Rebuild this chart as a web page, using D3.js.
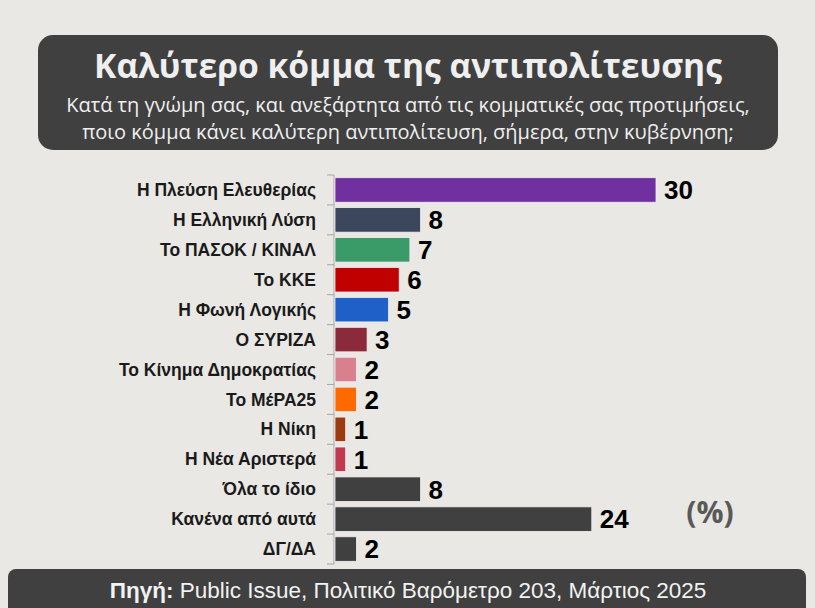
<!DOCTYPE html>
<html>
<head>
<meta charset="utf-8">
<script src="https://cdn.jsdelivr.net/npm/d3@7"></script>
<style>
  body { margin: 0; background: #e9e8e4; }
  svg { display: block; }
</style>
</head>
<body>
<svg id="chart" width="815" height="608"></svg>
<script>
// data
var parties = ["Η Πλεύση Ελευθερίας", "Η Ελληνική Λύση", "Το ΠΑΣΟΚ / ΚΙΝΑΛ", "Το ΚΚΕ", "Η Φωνή Λογικής",
    "Ο ΣΥΡΙΖΑ", "Το Κίνημα Δημοκρατίας", "Το ΜέΡΑ25", "Η Νίκη", "Η Νέα Αριστερά",
    "Όλα το ίδιο", "Κανένα από αυτά", "ΔΓ/ΔΑ"];
var values = [30, 8, 7, 6, 5, 3, 2, 2, 1, 1, 8, 24, 2];
var colors = ["#7030a0", "#3c465c", "#3a9a68", "#c00000", "#1f5fc8", "#8b2a3a", "#d9808f",
    "#ff6a00", "#9c3a10", "#c0394f", "#404040", "#404040", "#404040"];

var title = "Καλύτερο κόμμα της αντιπολίτευσης";
var subtitle = ["Κατά τη γνώμη σας, και ανεξάρτητα από τις κομματικές σας προτιμήσεις,",
    "ποιο κόμμα κάνει καλύτερη αντιπολίτευση, σήμερα, στην κυβέρνηση;"];

var width = 815, height = 608;
var svg = d3.select("#chart");

svg.append("rect").attr("width", width).attr("height", height).attr("fill", "#e9e8e4");

// title box
svg.append("rect")
    .attr("x", 38).attr("y", 35).attr("width", 740).attr("height", 115)
    .attr("rx", 15)
    .attr("fill", "#404040");

svg.append("text")
    .attr("x", 408).attr("y", 78)
    .attr("text-anchor", "middle")
    .style("font-family", "Open Sans")
    .style("font-weight", "bold")
    .style("font-size", "33.6px")
    .style("fill", "#efefef")
    .text(title);

svg.selectAll(".sub")
    .data(subtitle)
    .enter().append("text")
    .attr("class", "sub")
    .attr("x", 408)
    .attr("y", (d, i) => 112 + i * 27)
    .attr("text-anchor", "middle")
    .style("font-family", "Open Sans")
    .style("font-size", "20px")
    .style("fill", "#efefef")
    .text(d => d);

// scales
var x = d3.scaleLinear().domain([0, 30]).range([335, 656]);
var y = d3.scaleBand().domain(parties).range([175, 564]).paddingInner(0.18).paddingOuter(0.09);

// axis (left, ticks at band boundaries)
var axisG = svg.append("g");
axisG.append("line")
    .attr("x1", 334).attr("x2", 334)
    .attr("y1", 175).attr("y2", 564)
    .attr("stroke", "#a6a6a6").attr("stroke-width", 1);
var bounds = d3.range(parties.length + 1).map(i => 175 + i * y.step());
axisG.selectAll(".tick")
    .data(bounds)
    .enter().append("line")
    .attr("x1", 327).attr("x2", 334)
    .attr("y1", d => d).attr("y2", d => d)
    .attr("stroke", "#a6a6a6");

// category labels
svg.selectAll(".label")
    .data(parties)
    .enter().append("text")
    .attr("class", "label")
    .attr("x", 316)
    .attr("y", d => y(d) + y.bandwidth() / 2)
    .attr("dy", "0.35em")
    .attr("text-anchor", "end")
    .style("font-family", "Liberation Sans")
    .style("font-weight", "bold")
    .style("font-size", "17.5px")
    .style("fill", "#1a1a1a")
    .text(d => d);

// bars
svg.selectAll(".bar")
    .data(values)
    .enter().append("rect")
    .attr("class", "bar")
    .attr("x", x(0))
    .attr("y", (d, i) => y(parties[i]))
    .attr("width", d => x(d) - x(0))
    .attr("height", y.bandwidth())
    .attr("fill", (d, i) => colors[i])
    .attr("stroke", "#f2eef2")
    .attr("stroke-width", 0.8);

// value labels
svg.selectAll(".val")
    .data(values)
    .enter().append("text")
    .attr("class", "val")
    .attr("x", d => x(d) + 8)
    .attr("y", (d, i) => y(parties[i]) + y.bandwidth() / 2)
    .attr("dy", "0.36em")
    .style("font-family", "Liberation Sans")
    .style("font-weight", "bold")
    .style("font-size", "26px")
    .style("fill", "#000")
    .text(d => d);

// (%)
svg.append("text")
    .attr("x", 710).attr("y", 512)
    .attr("dy", "0.35em")
    .attr("text-anchor", "middle")
    .style("font-family", "Open Sans")
    .style("font-weight", "bold")
    .style("font-size", "30px")
    .style("fill", "#595959")
    .text("(%)");

// footer
svg.append("rect")
    .attr("x", 8).attr("y", 569).attr("width", 798).attr("height", 50)
    .attr("rx", 8)
    .attr("fill", "#404040");

var src = svg.append("text")
    .attr("x", 408).attr("y", 598)
    .attr("text-anchor", "middle")
    .style("font-family", "Liberation Sans")
    .style("font-size", "22.5px")
    .style("fill", "#f2f2f2");
src.append("tspan").style("font-weight", "bold").text("Πηγή:");
src.append("tspan").text(" Public Issue, Πολιτικό Βαρόμετρο 203, Μάρτιος 2025");
</script>
</body>
</html>
